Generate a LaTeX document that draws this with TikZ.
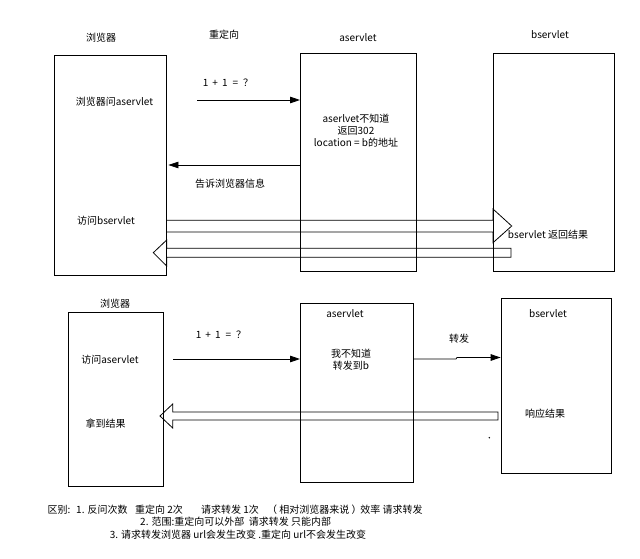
\documentclass[tikz,border=0pt]{standalone}
\usepackage{fontspec}
\setmainfont{Noto Sans CJK SC}
\usetikzlibrary{arrows.meta,calc}
\tikzset{
  box/.style={draw, line width=0.9pt, minimum width=#1, anchor=north west, inner sep=0pt},
  lbl/.style={font=\fontsize{10}{12}\selectfont, inner sep=0pt},
  small/.style={font=\fontsize{10}{12}\selectfont, inner sep=0pt},
  thin/.style={line width=0.8pt, -{Triangle[length=10pt,width=6.5pt]}},
  hollow/.style={line width=0.8pt, line join=miter},
}
\newcommand{\oneplus}{1\hspace{4pt}+\hspace{4pt}1\hspace{5pt}=\hspace{5pt}？}
\begin{document}
\begin{tikzpicture}[x=1pt,y=-1pt]
\useasboundingbox (0,0) rectangle (640,559);
% ---- top section ----
\node[box=112pt, minimum height=220pt] (br1) at (54,55) {};
\node[box=116pt, minimum height=218pt] (as1) at (300,53) {};
\node[box=121pt, minimum height=218pt] (bs1) at (493,53) {};
\node[lbl] (tbr1) at (101,38) {浏览器};
\node[lbl] (tre) at (224,35) {重定向};
\node[lbl] (tas1) at (358,38) {aservlet};
\node[lbl] (tbs1) at (550,35) {bservlet};
\node[lbl] (q1) at (228,83) {\oneplus};
\node[lbl] (ask) at (114.5,102) {浏览器问aservlet};
\node[lbl, align=center, font=\fontsize{10}{12.3}\selectfont] (ans) at (356,130.5) {aserlvet不知道\\返回302\\location = b的地址};
\node[lbl] (tell) at (230,184) {告诉浏览器信息};
\node[lbl] (visb) at (106,221) {访问bservlet};
\node[lbl] (ret) at (548,234.5) {bservlet 返回结果};
\coordinate (a1s) at (197,100);
\draw[thin] (a1s) -- (a1s -| as1.west);
\coordinate (a2s) at (300,165);
\draw[thin] (a2s) -- ($(a2s -| br1.east)+(1.5,0)$);
% hollow arrow right
\draw[hollow] (166,220.3) -- (493,220.3) -- (493,209) -- (511.7,226) -- (493,242.7) -- (493,232) -- (166,232);
% hollow arrow left
\draw[hollow] (511,248.3) -- (166.7,248.3) -- (166.7,240) -- (153.3,252.7) -- (166.7,266) -- (166.7,257.3) -- (511,257.3) -- cycle;
% ---- bottom section ----
\node[box=95pt, minimum height=174pt] (br2) at (67.5,312) {};
\node[box=113pt, minimum height=179pt] (as2) at (300,303.3) {};
\node[box=110pt, minimum height=175pt] (bs2) at (500.7,297.7) {};
\node[lbl] (tbr2) at (115,304) {浏览器};
\node[lbl] (tas2) at (345,314) {aservlet};
\node[lbl] (tbs2) at (548,314) {bservlet};
\node[lbl] (q2) at (221,335) {\oneplus};
\node[lbl] (visa) at (110,360) {访问aservlet};
\node[lbl] (got) at (105.5,423.5) {拿到结果};
\node[lbl, align=center, font=\fontsize{10}{12.5}\selectfont] (fw) at (351,359.5) {我不知道\\转发到b};
\node[lbl] (tfw) at (459,339) {转发};
\node[lbl] (resp) at (545,414) {响应结果};
\coordinate (b1s) at (173,359);
\draw[thin] (b1s) -- (b1s -| as2.west);
\coordinate (b2s) at (413.3,359);
\coordinate (b2j) at (456,359);
\draw[thin] (b2s) -- (b2j) -- ++(1,-1.5) -- ($(b2j -| bs2.west)+(0,-1.5)$);
\draw[hollow] (498,412) -- (172.7,412) -- (172.7,404) -- (160,416) -- (172.7,428) -- (172.7,420) -- (498,420) -- cycle;
\fill (489.3,437.7) circle (0.8);
% ---- notes ----
\node[small, anchor=west] (n1a) at (47.3,510) {区别:};
\node[small, anchor=west] (n1b) at (76,510) {1. 反问次数};
\node[small, anchor=west] (n1c) at (135,510) {重定向 2次};
\node[small, anchor=west] (n1d) at (201,510) {请求转发 1次};
\node[small, anchor=west] (n1e) at (267,510) {（ 相对浏览器来说 ）};
\node[small, anchor=east] (n1f) at (422.7,510) {效率 请求转发};
\node[small, anchor=west] (n2) at (140,522) {2. 范围:重定向可以外部\ \ 请求转发 只能内部};
\node[small] (n3) at (238,534.5) {3. 请求转发浏览器 url会发生改变 .重定向 url不会发生改变};
\end{tikzpicture}
\end{document}
